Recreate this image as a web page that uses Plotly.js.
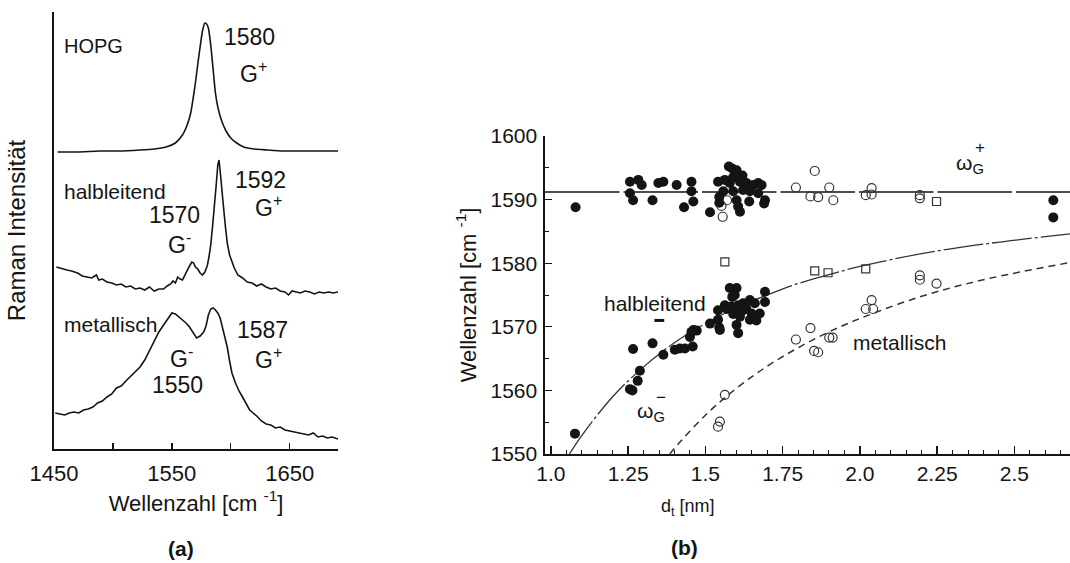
<!DOCTYPE html>
<html><head><meta charset="utf-8">
<script src="https://cdn.plot.ly/plotly-3.0.1.min.js"></script>
<style>html,body{margin:0;padding:0;background:#fff}#g{width:1070px;height:563px}</style>
</head><body><div id="g"></div>
<script>
// ---------- Panel (a): Raman spectra (wavenumber, intensity a.u.) ----------
const hopgX = [1453,1470,1489,1505,1523,1535,1545,1553,1559,1563,1566,1568,1570,1572,1574,1576,1578,1579.5,1581,1583,1585,1587,1589,1592,1596,1600,1605,1611,1620,1631,1645,1659,1675,1691];
const hopgY = [297,297,298,298,299,300,302,306,314,324,336,350,366,385,402,418,426,425,421,404,380,356,342,329,318,311,306,302,300,299,298,298,298,298];

const halbX = [1452,1457,1461,1465,1470,1474,1478,1482,1486,1488,1491,1495,1499,1503,1507,1511,1515,1519,1523,1527,1531,1535,1539,1543,1546,1549,1551,1553,1555,1557,1559,1561,1563,1565,1567,1568.5,1570,1572,1574,1576,1578,1580,1581.5,1583,1584.5,1586,1587.5,1589,1590,1591,1592.5,1594,1595.5,1597,1599,1601,1603,1606,1610,1614,1618,1622,1626,1630,1634,1638,1642,1646,1649,1652,1655,1659,1663,1667,1671,1675,1679,1683,1687,1691];
const halbY = [182,180,179,178,176,173,172,171,174,169,170,167,166,164,165,162,163,160,161,159,162,158,160,160,163,165,168,166,172,170,169,174,179,183,187,186,182,180,176,174,177,183,192,204,222,240,262,284,289,278,262,240,222,206,194,187,181,174,171,167,166,163,165,162,160,161,158,157,154,158,157,156,158,157,155,157,156,157,156,157];

const metX = [1451,1455,1459,1463,1467,1471,1475,1479,1483,1487,1491,1495,1499,1503,1507,1511,1515,1519,1523,1527,1531,1535,1539,1543,1547,1550,1553,1556,1559,1562,1565,1568,1571,1574,1577,1579,1581,1583,1585,1587,1589,1591,1593,1595,1597,1599,1601,1604,1607,1610,1613,1616,1619,1622,1626,1630,1634,1638,1642,1646,1650,1654,1658,1662,1666,1670,1674,1678,1682,1686,1691];
const metY = [36,35,34,36,37,36,39,40,42,46,48,52,55,61,63,68,73,78,82,89,98,107,117,124,131,136,135,132,129,126,122,116,111,113,117,123,134,140,141,139,136,131,122,112,102,88,76,66,58,52,45,39,36,33,28,25,24,21,22,19,18,17,16,15,14,16,12,13,11,12,10];

const specTicks = [1450,1500,1550,1600,1650];
const specTickText = ['1450','','1550','','1650'];

// ---------- Panel (b): G-band frequency vs. diameter ----------
const semiUpD = [1.080,1.256,1.283,1.294,1.256,1.266,1.329,1.348,1.364,1.407,1.431,1.455,1.455,1.461,1.515,1.541,1.545,1.558,1.563,1.576,1.587,1.601,1.595,1.579,1.612,1.633,1.655,1.671,1.682,1.590,1.622,1.644,1.671,1.601,1.606,1.612,1.642,1.693,1.690,1.590,1.620,1.545,2.626,2.626];
const semiUpW = [1588.8,1592.8,1593.1,1592.3,1591.0,1589.9,1589.9,1592.6,1592.8,1592.3,1588.8,1592.8,1591.3,1589.7,1588.0,1592.8,1590.4,1591.3,1593.1,1595.2,1594.9,1594.6,1593.6,1592.6,1592.8,1592.6,1592.3,1592.6,1592.3,1591.3,1591.5,1591.3,1591.0,1589.9,1588.9,1588.1,1589.7,1589.9,1589.4,1593.5,1593.8,1589.5,1589.9,1587.2];

const semiLoD = [1.078,1.256,1.264,1.281,1.288,1.266,1.329,1.364,1.401,1.417,1.434,1.459,1.450,1.455,1.461,1.472,1.515,1.545,1.541,1.541,1.547,1.563,1.579,1.601,1.595,1.587,1.584,1.606,1.622,1.601,1.612,1.622,1.601,1.606,1.644,1.660,1.650,1.644,1.676,1.693,1.693,1.570,1.590,1.632,1.665];
const semiLoW = [1553.2,1560.2,1560.0,1561.5,1563.1,1566.5,1567.4,1565.6,1566.4,1566.6,1566.6,1566.9,1568.4,1569.2,1569.5,1569.4,1570.5,1569.9,1572.6,1571.1,1569.5,1573.4,1576.1,1576.1,1575.0,1574.7,1573.2,1573.4,1573.7,1572.4,1571.6,1572.6,1570.3,1569.0,1574.2,1573.7,1572.1,1571.1,1572.1,1573.9,1575.5,1572.8,1572.0,1572.9,1571.0];

const metUpD = [1.552,1.556,1.570,1.793,1.854,1.840,1.865,1.901,1.914,2.019,2.038,2.038,2.194,2.194];
const metUpW = [1589.0,1587.3,1589.9,1591.9,1594.5,1590.5,1590.4,1591.9,1589.9,1590.7,1591.8,1590.8,1590.7,1590.2];

const metLoD = [2.194,2.194,2.248,2.038,2.019,2.043,1.840,1.793,1.901,1.912,1.852,1.865,1.563,1.547,1.541];
const metLoW = [1578.1,1577.4,1576.8,1574.2,1572.8,1572.8,1569.8,1568.0,1568.3,1568.3,1566.2,1566.0,1559.3,1555.1,1554.3];

const sqD = [1.563,1.854,1.897,2.019,2.248];
const sqW = [1580.2,1578.8,1578.5,1579.1,1589.7];

const markD = [1.351];
const markW = [1571.0];

// fitted reference lines
const plusD = [0.981,2.68];
const plusW = [1591.2,1591.2];
const fitSD = [1.06,1.1,1.2,1.3,1.4,1.5,1.6,1.7,1.8,1.9,2.0,2.2,2.4,2.68];
const fitSW = [1550.0,1552.9,1559.0,1563.7,1567.5,1570.5,1573.0,1575.0,1576.8,1578.2,1579.5,1581.5,1583.0,1584.6];
const fitMD = [1.385,1.4,1.5,1.6,1.7,1.8,1.9,2.0,2.2,2.4,2.68];
const fitMW = [1550.0,1550.9,1556.1,1560.3,1563.8,1566.7,1569.2,1571.3,1574.8,1577.4,1580.1];

const dTicks = [1.0,1.25,1.5,1.75,2.0,2.25,2.5];
const dTickText = ['1.0','1.25','1.5','1.75','2.0','2.25','2.5'];
const wTicks = [1550,1560,1570,1580,1590,1600];

// ---------- drawing ----------
const W = 1070, H = 563;
const FONT = 'Liberation Sans, Arial, Helvetica, sans-serif';
const INK = '#141414';
const px = x => x / W, py = y => 1 - y / H;

const specLine = {color: INK, width: 1.6};
const traces = [
  {x: hopgX, y: hopgY, mode: 'lines', line: Object.assign({shape: 'spline', smoothing: 0.6}, specLine), xaxis: 'x', yaxis: 'y'},
  {x: halbX, y: halbY, mode: 'lines', line: specLine, xaxis: 'x', yaxis: 'y'},
  {x: metX, y: metY, mode: 'lines', line: specLine, xaxis: 'x', yaxis: 'y'},

  {x: plusD, y: plusW, mode: 'lines', line: {color: INK, width: 1.4, dash: '74.5px,4px'}, xaxis: 'x2', yaxis: 'y2'},
  {x: fitSD, y: fitSW, mode: 'lines', line: {color: '#333', width: 1.3, shape: 'spline', dash: '40px,3px,3px,3px'}, xaxis: 'x2', yaxis: 'y2'},
  {x: fitMD, y: fitMW, mode: 'lines', line: {color: '#333', width: 1.5, shape: 'spline', dash: '7px,5px'}, xaxis: 'x2', yaxis: 'y2'},

  {x: metUpD, y: metUpW, mode: 'markers', marker: {symbol: 'circle-open', size: 9, color: '#333', line: {width: 1.2}}, xaxis: 'x2', yaxis: 'y2'},
  {x: metLoD, y: metLoW, mode: 'markers', marker: {symbol: 'circle-open', size: 9, color: '#333', line: {width: 1.2}}, xaxis: 'x2', yaxis: 'y2'},
  {x: sqD, y: sqW, mode: 'markers', marker: {symbol: 'square-open', size: 8, color: '#333', line: {width: 1.2}}, xaxis: 'x2', yaxis: 'y2'},
  {x: semiUpD, y: semiUpW, mode: 'markers', marker: {symbol: 'circle', size: 10, color: INK, line: {width: 0}}, xaxis: 'x2', yaxis: 'y2'},
  {x: semiLoD, y: semiLoW, mode: 'markers', marker: {symbol: 'circle', size: 10, color: INK, line: {width: 0}}, xaxis: 'x2', yaxis: 'y2'},
  {x: markD, y: markW, mode: 'markers', marker: {symbol: 'line-ew', size: 7, color: INK, line: {width: 3, color: INK}}, xaxis: 'x2', yaxis: 'y2'}
];

function ann(text, x, y, size, opts) {
  return Object.assign({text: text, xref: 'paper', yref: 'paper', x: px(x), y: py(y), showarrow: false,
    xanchor: 'center', yanchor: 'middle', font: {family: FONT, size: size, color: INK}}, opts || {});
}

const annotations = [
  ann('HOPG', 62, 46, 20, {xanchor: 'left'}),
  ann('1580', 249, 37, 23), ann('G<sup>+</sup>', 253, 72, 23),
  ann('halbleitend', 62, 191, 21, {xanchor: 'left'}),
  ann('1592', 260, 180, 23), ann('G<sup>+</sup>', 268, 206, 23),
  ann('1570', 174, 215, 23), ann('G<sup>-</sup>', 179, 243, 23),
  ann('metallisch', 62, 324, 21, {xanchor: 'left'}),
  ann('1587', 262, 330, 23), ann('G<sup>+</sup>', 268, 358, 23),
  ann('G<sup>-</sup>', 181, 357, 23), ann('1550', 177, 385, 23),
  ann('<b>(a)</b>', 181, 548, 21),
  ann('<b>(b)</b>', 684, 547, 21),
  ann('halbleitend', 655, 303, 21),
  ann('metallisch', 899, 342, 21),
  ann('ω<sub>G</sub>', 970, 164, 21), ann('+', 980, 147, 17),
  ann('ω<sub>G</sub>', 651, 412, 21), ann('−', 661, 397, 17),
  ann('d<sub>t</sub> [nm]', 688, 507, 18)
];

const axBase = {showline: true, linecolor: INK, linewidth: 1.6, showgrid: false, zeroline: false,
  tickcolor: INK, tickwidth: 1.4, tickfont: {family: FONT, size: 21, color: INK}};

const layout = {
  width: W, height: H, margin: {l: 0, r: 0, t: 0, b: 0},
  paper_bgcolor: '#fff', plot_bgcolor: 'rgba(0,0,0,0)', showlegend: false,
  font: {family: FONT, color: INK},
  xaxis: Object.assign({}, axBase, {domain: [px(54), px(338)], range: [1450, 1691], anchor: 'y',
    ticks: 'inside', ticklen: 6, tickmode: 'array', tickvals: specTicks, ticktext: specTickText,
    tickfont: {family: FONT, size: 22, color: INK}, ticklabelstandoff: 4,
    title: {text: 'Wellenzahl [cm <sup>-1</sup>]', font: {family: FONT, size: 22, color: INK}, standoff: 10}}),
  yaxis: Object.assign({}, axBase, {domain: [py(449), py(12)], range: [0, 437], anchor: 'x',
    ticks: '', showticklabels: false,
    title: {text: 'Raman Intensität', font: {family: FONT, size: 24, color: INK}, standoff: 20}}),
  xaxis2: Object.assign({}, axBase, {domain: [px(545), 1], range: [0.981, 2.68], anchor: 'y2',
    ticks: 'inside', ticklen: 8, tickmode: 'array', tickvals: dTicks, ticktext: dTickText, ticklabelstandoff: 0,
    minor: {tickmode: 'linear', tick0: 1, dtick: 0.05, ticks: 'inside', ticklen: 4, tickcolor: INK, tickwidth: 1}}),
  yaxis2: Object.assign({}, axBase, {domain: [py(454), py(136)], range: [1550, 1600], anchor: 'x2',
    ticks: 'inside', ticklen: 7, tickmode: 'array', tickvals: wTicks, ticklabelstandoff: 2,
    minor: {tickmode: 'linear', tick0: 1550, dtick: 5, ticks: 'inside', ticklen: 4, tickcolor: INK, tickwidth: 1},
    title: {text: 'Wellenzahl [cm <sup>-1</sup>]', font: {family: FONT, size: 22, color: INK}, standoff: 8}}),
  annotations: annotations
};

Plotly.newPlot('g', traces, layout, {staticPlot: true, displayModeBar: false});
</script></body></html>
